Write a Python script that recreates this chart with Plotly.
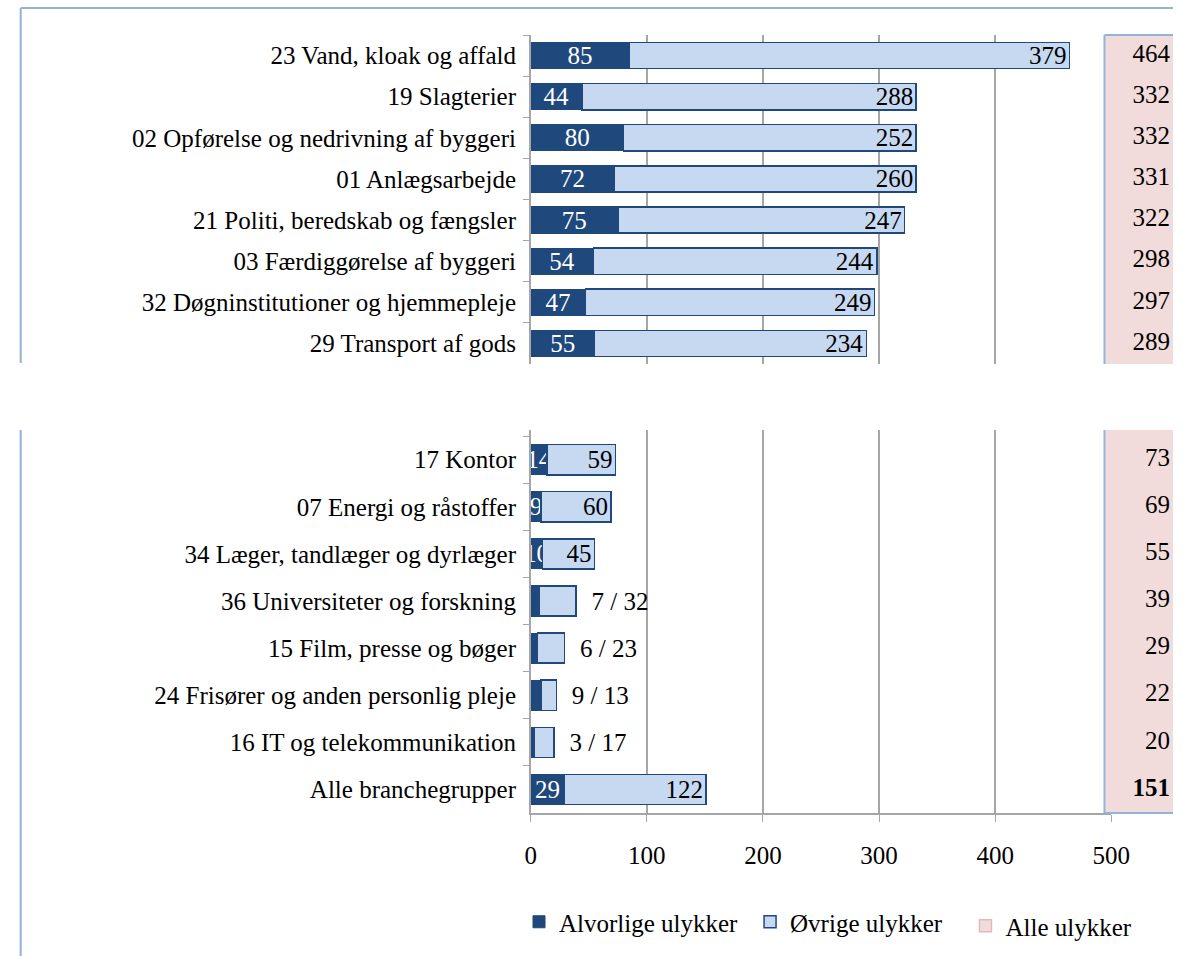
import plotly.graph_objects as go

W, H = 1192, 956

# --- data -------------------------------------------------------------
top_labels = [
    "23 Vand, kloak og affald",
    "19 Slagterier",
    "02 Opførelse og nedrivning af byggeri",
    "01 Anlægsarbejde",
    "21 Politi, beredskab og fængsler",
    "03 Færdiggørelse af byggeri",
    "32 Døgninstitutioner og hjemmepleje",
    "29 Transport af gods",
]
top_serious = [85, 44, 80, 72, 75, 54, 47, 55]
top_other = [379, 288, 252, 260, 247, 244, 249, 234]
top_total = [464, 332, 332, 331, 322, 298, 297, 289]

bottom_labels = [
    "17 Kontor",
    "07 Energi og råstoffer",
    "34 Læger, tandlæger og dyrlæger",
    "36 Universiteter og forskning",
    "15 Film, presse og bøger",
    "24 Frisører og anden personlig pleje",
    "16 IT og telekommunikation",
    "Alle branchegrupper",
]
bottom_serious = [14, 9, 10, 7, 6, 9, 3, 29]
bottom_other = [59, 60, 45, 32, 23, 13, 17, 122]
bottom_total = [73, 69, 55, 39, 29, 22, 20, 151]

x_ticks = [0, 100, 200, 300, 400, 500]

# --- style ------------------------------------------------------------
FONT = "'Liberation Serif', 'Times New Roman', Times, serif"
FS = 25
DARK = "#1F497D"
LIGHT = "#C6D9F1"
PINK = "#F2DCDB"
FRAME = "#95B3D7"
GRID = "#A6A6A6"


def px(x):
    return x / W


def py(y):
    return 1 - y / H


fig = go.Figure()

panels = [
    (top_labels, top_serious, top_other, top_total, "x", "y", "x3", True),
    (bottom_labels, bottom_serious, bottom_other, bottom_total, "x2", "y2", "x4", False),
]
for labels, serious, other, total, xa, ya, xt, first in panels:
    # small groups get a combined "a / b" label after the bar
    small = [t < 50 for t in total]
    fig.add_trace(go.Bar(
        y=labels, x=serious, orientation="h", name="Alvorlige ulykker",
        xaxis=xa, yaxis=ya, legend="legend", showlegend=first,
        marker=dict(color=DARK, line=dict(color=DARK, width=1)),
        text=["" if s else str(v) for s, v in zip(small, serious)],
        textposition="inside", insidetextanchor="middle", textangle=0,
        constraintext="none",
        textfont=dict(family=FONT, size=FS, color="white"),
        hoverinfo="skip",
    ))
    fig.add_trace(go.Bar(
        y=labels, x=other, orientation="h", name="Øvrige ulykker",
        xaxis=xa, yaxis=ya, legend="legend2", showlegend=first,
        marker=dict(color=LIGHT, line=dict(color=DARK, width=1.5)),
        text=[f"  {a} / {b}" if s else str(b) for s, a, b in zip(small, serious, other)],
        textposition=["outside" if s else "inside" for s in small],
        insidetextanchor="end", textangle=0, constraintext="none",
        textfont=dict(family=FONT, size=FS, color="black"),
        hoverinfo="skip",
    ))
    fig.add_trace(go.Scatter(
        y=labels, x=[1] * len(labels), mode="text",
        text=[f"<b>{t}</b>" if lab.startswith("Alle") else str(t)
              for lab, t in zip(labels, total)],
        textposition="middle left", cliponaxis=False,
        textfont=dict(family=FONT, size=FS, color="black"),
        xaxis=xt, yaxis=ya, showlegend=False, hoverinfo="skip",
    ))

# legend entry for the totals column
fig.add_trace(go.Bar(
    y=[top_labels[0]], x=[0], orientation="h", name="Alle ulykker",
    xaxis="x3", yaxis="y", legend="legend3",
    marker=dict(color=PINK, line=dict(color="#E6B9B8", width=1.5)),
    hoverinfo="skip",
))

main_dom = [px(536), px(1129)]
tot_dom = [px(1122), px(1189)]
top_dom = [py(364), py(35)]
bot_dom = [py(813), py(430)]

xcommon = dict(domain=main_dom, range=[0, 500], tickvals=x_ticks,
               showgrid=True, gridcolor=GRID, gridwidth=1.5, zeroline=False)
ycommon = dict(type="category", showline=True, linecolor=GRID, linewidth=1.5,
               ticks="outside", tickson="boundaries", ticklen=6, tickcolor=GRID,
               ticklabelstandoff=8, showgrid=False,
               tickfont=dict(family=FONT, size=FS, color="black"))
legend_common = dict(xanchor="left", yanchor="middle", orientation="h",
                     bgcolor="rgba(0,0,0,0)", font=dict(family=FONT, size=FS))

fig.update_layout(
    width=W, height=H, autosize=False,
    margin=dict(l=0, r=0, t=0, b=0),
    paper_bgcolor="white", plot_bgcolor="rgba(0,0,0,0)",
    barmode="stack", bargap=0.36,
    font=dict(family=FONT, size=FS, color="black"),
    xaxis=dict(**xcommon, anchor="y", showticklabels=False, ticks="", showline=False),
    xaxis2=dict(**xcommon, anchor="y2", showline=True, linecolor=GRID, linewidth=1.5,
                ticks="outside", ticklen=7, tickcolor=GRID, ticklabelstandoff=12,
                tickfont=dict(family=FONT, size=FS, color="black")),
    xaxis3=dict(domain=tot_dom, range=[0, 1], anchor="y", visible=False),
    xaxis4=dict(domain=tot_dom, range=[0, 1], anchor="y2", visible=False),
    yaxis=dict(**ycommon, domain=top_dom, anchor="x",
               categoryorder="array", categoryarray=top_labels, autorange="reversed"),
    yaxis2=dict(**ycommon, domain=bot_dom, anchor="x2",
                categoryorder="array", categoryarray=bottom_labels,
                range=[len(bottom_labels) - 0.5, -0.63]),
    legend=dict(**legend_common, x=px(524), y=py(922)),
    legend2=dict(**legend_common, x=px(760), y=py(922)),
    legend3=dict(**legend_common, x=px(980), y=py(926)),
    showlegend=True,
)

shapes = [
    # outer frame (broken between the two panels)
    dict(type="line", x0=px(15), x1=1, y0=py(8), y1=py(8)),
    dict(type="line", x0=px(15), x1=px(15), y0=py(8), y1=py(363)),
    dict(type="line", x0=px(15), x1=px(15), y0=py(430), y1=0),
    # totals column borders
    dict(type="line", x0=px(1122), x1=1, y0=py(35), y1=py(35)),
    dict(type="line", x0=px(1122), x1=px(1122), y0=py(35), y1=py(364)),
    dict(type="line", x0=px(1122), x1=px(1122), y0=py(430), y1=py(813)),
    dict(type="line", x0=px(1122), x1=1, y0=py(813), y1=py(813)),
]
for s in shapes:
    s.update(xref="paper", yref="paper", line=dict(color=FRAME, width=2), layer="above")
fig.update_layout(shapes=[
    dict(type="rect", xref="paper", yref="paper", x0=px(1122), x1=1,
         y0=py(364), y1=py(35), fillcolor=PINK, line_width=0, layer="between"),
    dict(type="rect", xref="paper", yref="paper", x0=px(1122), x1=1,
         y0=py(813), y1=py(430), fillcolor=PINK, line_width=0, layer="between"),
] + shapes)

# page fits the window exactly: no body margin, nothing to scroll
post = """
var gd = document.getElementById('{plot_id}');
var de = document.documentElement, b = document.body;
de.style.margin = b.style.margin = b.style.padding = '0px';
de.style.overflow = b.style.overflow = 'hidden';
de.style.width = b.style.width = '%dpx';
de.style.height = b.style.height = '%dpx';
gd.parentElement.style.position = 'absolute';
gd.parentElement.style.left = '0px';
gd.parentElement.style.top = '0px';
""" % (W, H)

fig.write_html("out.html", config={"displayModeBar": False, "responsive": False},
               post_script=post)
